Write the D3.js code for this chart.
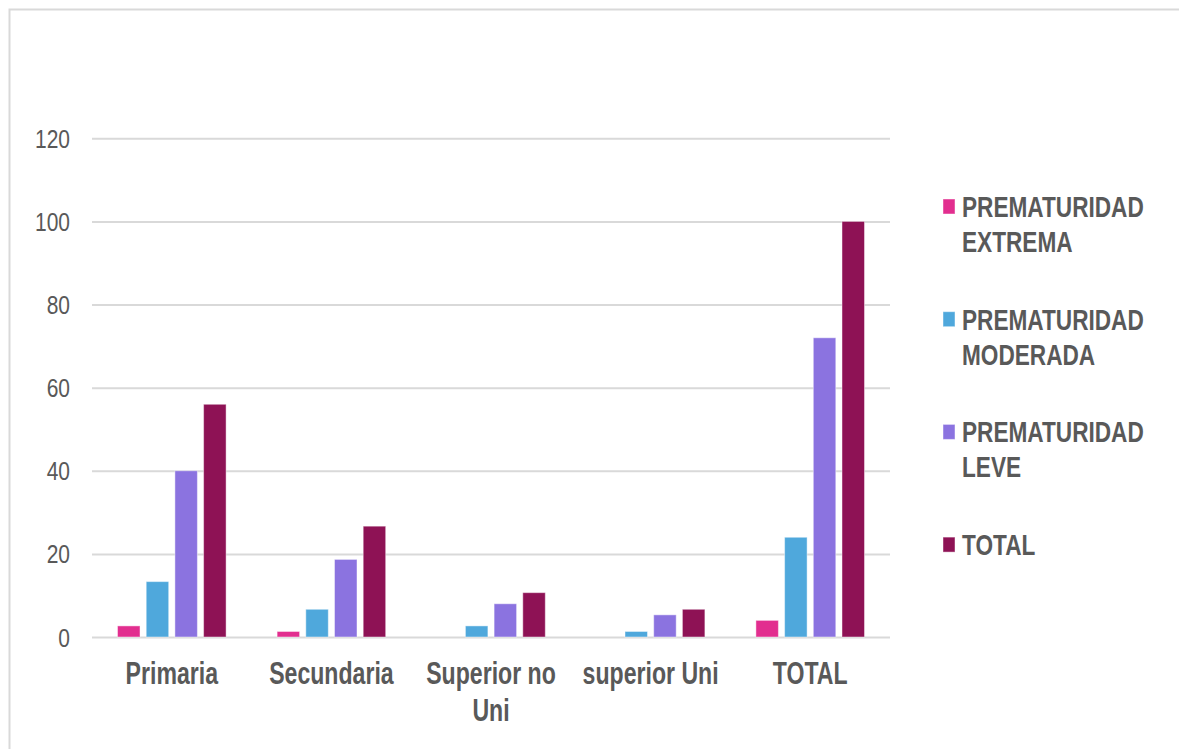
<!DOCTYPE html>
<html>
<head>
<meta charset="utf-8">
<script src="https://cdn.jsdelivr.net/npm/d3@7"></script>
<style>
  html, body { margin: 0; padding: 0; background: #fff; }
  svg { display: block; }
</style>
</head>
<body>
<svg id="chart" width="1179" height="749"></svg>
<script>
// Education level groups and prematurity series (percent of cases)
const categories = ["Primaria", "Secundaria", "Superior no Uni", "superior Uni", "TOTAL"];
const seriesNames = ["PREMATURIDAD EXTREMA", "PREMATURIDAD MODERADA", "PREMATURIDAD LEVE", "TOTAL"];
const extrema  = [2.67, 1.33, 0, 0, 4];
const moderada = [13.33, 6.67, 2.67, 1.33, 24];
const leve     = [40, 18.67, 8, 5.33, 72];
const total    = [56, 26.67, 10.67, 6.67, 100];
const yTicks   = [0, 20, 40, 60, 80, 100, 120];
const colors   = ["#e22e8f", "#4fa8dc", "#8b73e0", "#8e1255"];

(function () {
  const seriesValues = [extrema, moderada, leve, total];
  const rows = categories.map((c, i) => ({
    category: c,
    values: seriesValues.map((vals, s) => ({ s, value: vals[i] }))
  }));

  const FONT = "'Liberation Sans', Arial, sans-serif";
  const TEXT = "#595959";
  const GRID = "#d9d9d9";

  const svg = d3.select("#chart");

  // chart frame
  svg.append("rect")
    .attr("x", 9.5).attr("y", 9.5)
    .attr("width", 1300).attr("height", 900)
    .attr("fill", "none").attr("stroke", GRID).attr("stroke-width", 2);

  const plotLeft = 92, plotRight = 890, plotTop = 138.3, plotBottom = 637;

  const x0 = d3.scaleBand().domain(categories).range([plotLeft, plotRight]).padding(0);
  const x1 = d3.scaleBand().domain(d3.range(seriesNames.length))
    .range([0, x0.bandwidth()]).paddingInner(0.216).paddingOuter(0.889);
  const y = d3.scaleLinear().domain([0, 120]).range([plotBottom, plotTop]);

  // value axis with gridlines
  const yAxis = svg.append("g")
    .attr("transform", `translate(${plotLeft},0)`)
    .call(d3.axisLeft(y).tickValues(yTicks).tickSize(-(plotRight - plotLeft)).tickPadding(0));
  yAxis.select(".domain").remove();
  yAxis.selectAll(".tick line").attr("stroke", GRID).attr("stroke-width", 2);
  yAxis.selectAll(".tick text")
    .attr("x", 0).attr("dy", "0.36em")
    .attr("transform", "translate(-22,0) scale(0.84,1)")
    .attr("fill", TEXT)
    .style("font-family", FONT).style("font-size", "25px");

  // bars
  const groups = svg.append("g").selectAll("g")
    .data(rows).join("g")
    .attr("transform", d => `translate(${x0(d.category)},0)`);
  groups.selectAll("rect")
    .data(d => d.values).join("rect")
    .attr("x", d => x1(d.s))
    .attr("width", x1.bandwidth())
    .attr("y", d => y(d.value))
    .attr("height", d => y(0) - y(d.value))
    .attr("fill", d => colors[d.s])
    .attr("stroke", "rgba(255,255,255,0.45)")
    .attr("stroke-width", 1);

  // category axis
  const SX = 0.745;
  const xAxis = svg.append("g")
    .attr("transform", `translate(0,${plotBottom})`)
    .call(d3.axisBottom(x0).tickSize(0));
  xAxis.select(".domain").remove();
  xAxis.selectAll(".tick text").each(function (label) {
    const t = d3.select(this);
    t.text(null).attr("y", null).attr("dy", null)
      .attr("transform", `translate(0,47) scale(${SX},1)`)
      .attr("fill", TEXT)
      .style("font-family", FONT).style("font-size", "31px").style("font-weight", "bold")
      .attr("text-anchor", "middle");
    // wrap words into lines that fit the band
    const words = label.split(" ");
    let line = [];
    let tspan = t.append("tspan").attr("x", 0).attr("dy", 0);
    words.forEach(w => {
      line.push(w);
      tspan.text(line.join(" "));
      if (tspan.node().getComputedTextLength() * SX > 150 && line.length > 1) {
        line.pop();
        tspan.text(line.join(" "));
        line = [w];
        tspan = t.append("tspan").attr("x", 0).attr("dy", 37).text(w);
      }
    });
  });

  // legend
  const legend = svg.append("g").selectAll("g")
    .data(seriesNames).join("g")
    .attr("transform", (d, i) => `translate(943,${217 + i * 112.7})`);
  legend.append("rect")
    .attr("x", 0).attr("y", -18)
    .attr("width", 12).attr("height", 15)
    .attr("fill", (d, i) => colors[i])
    .attr("stroke", "rgba(255,255,255,0.45)").attr("stroke-width", 1);
  legend.append("text")
    .attr("transform", `translate(19,0) scale(0.78,1)`)
    .attr("fill", TEXT)
    .style("font-family", FONT).style("font-size", "29px").style("font-weight", "bold")
    .selectAll("tspan")
    .data(d => d.split(" ")).join("tspan")
    .attr("x", 0)
    .attr("dy", (d, i) => i === 0 ? 0 : 35)
    .text(d => d);
})();
</script>
</body>
</html>
